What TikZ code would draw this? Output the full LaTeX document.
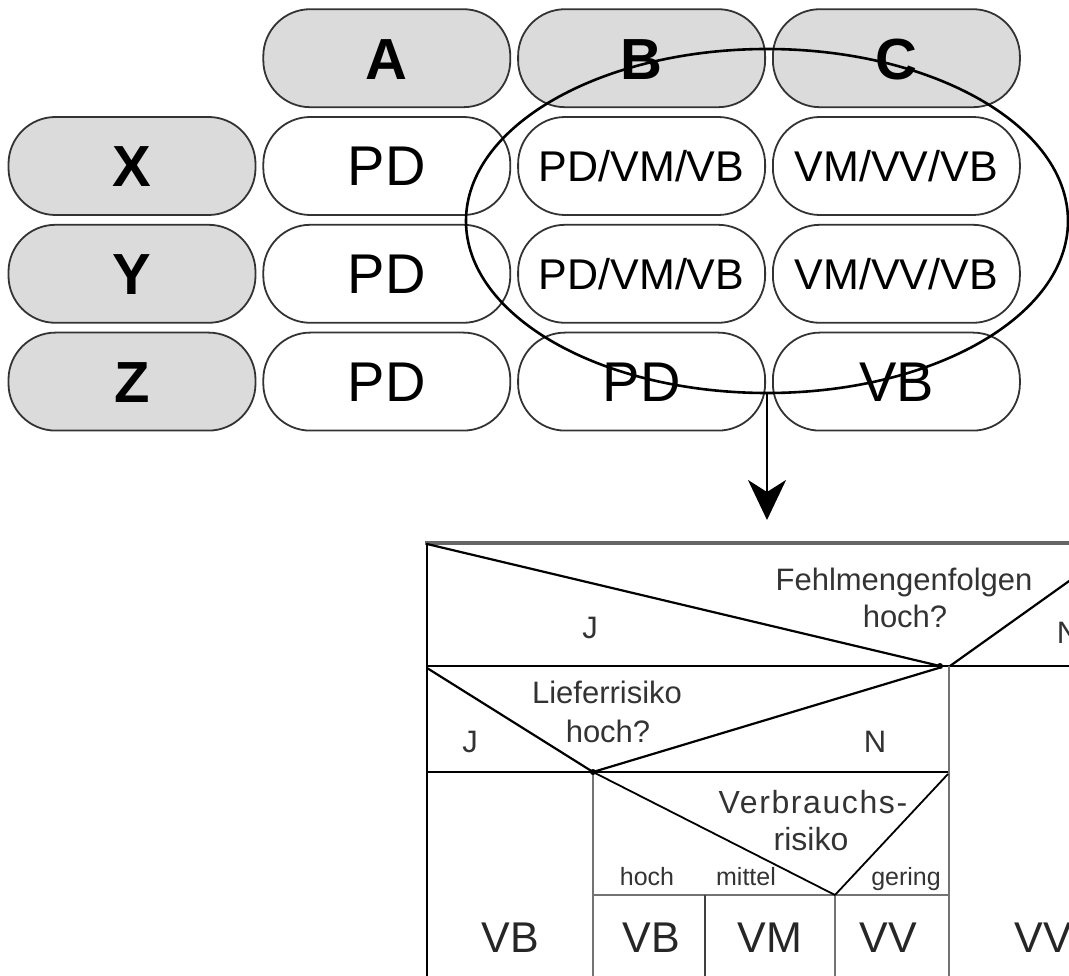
\documentclass[tikz,border=0pt]{standalone}
\usepackage{fontspec}
\setmainfont{Liberation Sans}
\usepackage{tikz}
\usetikzlibrary{arrows.meta}
\usetikzlibrary{shapes.geometric}
\usetikzlibrary{positioning}
\tikzset{
  % arrow tip of the link to the table
  >={Stealth[length=40pt, width=38pt, inset=12pt]},
  % capsules of the matrix
  cell/.style={draw=black!80, line width=1.8pt, rectangle, rounded corners=47pt,
    minimum width=247pt, minimum height=98pt, inner sep=0pt, text depth=0pt},
  head/.style={cell, fill=black!14, text height=42pt,
    font=\fontsize{58}{60}\selectfont\bfseries},
  big/.style={text height=40pt, font=\fontsize{56}{60}\selectfont},
  small/.style={text height=31pt, font=\fontsize{43}{48}\selectfont},
  % texts of the table
  txt/.style={anchor=base, inner sep=0pt, text=black!80, font=\fontsize{31}{36}\selectfont},
  tiny/.style={anchor=base, inner sep=0pt, text=black!80, font=\fontsize{25}{30}\selectfont},
  res/.style={anchor=base, inner sep=0pt, text=black!85, font=\fontsize{43}{48}\selectfont},
  rule/.style={line width=2.2pt, black},
  soft/.style={line width=2.2pt, black!55}
}

\begin{document}
\begin{tikzpicture}[x=1pt, y=-1pt, node distance=8pt and 6pt]
    % Define styles
    \tikzstyle{link} = [draw, ->, line width=2pt]

    \useasboundingbox (0,0) rectangle (1069,976);
    \clip (0,0) rectangle (1069,976);

    % Place nodes
    \node [head] (rx) at (132,166) {X};
    \node [head, below=of rx] (ry) {Y};
    \node [head, below=of ry] (rz) {Z};
    \node [head, above right=of rx] (ca) {A};
    \node [head, right=of ca] (cb) {B};
    \node [head, right=of cb] (cc) {C};

    \node [cell, big, right=of rx] (xa) {PD};
    \node [cell, small, right=of xa] (xb) {PD/VM/VB};
    \node [cell, small, right=of xb] (xc) {VM/VV/VB};
    \node [cell, big, right=of ry] (ya) {PD};
    \node [cell, small, right=of ya] (yb) {PD/VM/VB};
    \node [cell, small, right=of yb] (yc) {VM/VV/VB};
    \node [cell, big, right=of rz] (za) {PD};
    \node [cell, big, right=of za] (zb) {PD};
    \node [cell, big, right=of zb] (zc) {VB};

    \node [draw, ellipse, line width=2.6pt, minimum width=602pt, minimum height=344pt] (focus) at (767,221) {};
    \coordinate (tip) at (767,520);

    % Draw edges
    \path [link] (focus.south) -- (tip);

    % Decision table
    \draw [line width=3.5pt, black!60] (425,543) -- (1069,543);
    \draw [rule] (427,543) -- (427,976);
    \draw [rule] (427,666) -- (1069,666);
    \draw [rule] (427,772) -- (949,772);
    \draw [soft] (949,666) -- (949,976);
    \draw [soft] (593,772) -- (593,976);
    \draw [soft] (593,895) -- (949,895);
    \draw [rule, black!75] (705,895) -- (705,976);
    \draw [soft] (835,895) -- (835,976);

    \draw [rule] (427,544) -- (940,666);
    \draw [rule] (950,666) -- (1100,559);
    \draw [rule] (427,668) -- (593,772);
    \draw [rule] (593,772) -- (942,667);
    \draw [rule, line width=1.8pt] (593,772) -- (835,895);
    \draw [rule, line width=1.8pt] (835,895) -- (948,774);
    \fill (940,666) circle (3pt);
    \fill (593,772) circle (3pt);

    \node [txt] (fq1) at (904,590) {Fehlmengenfolgen};
    \node [txt] (fq2) at (905,627) {hoch?};
    \node [txt] (fj) at (590,638) {J};
    \node [txt] (fn) at (1068,643) {N};
    \node [txt] (lq1) at (607,703) {Lieferrisiko};
    \node [txt] (lq2) at (608,742) {hoch?};
    \node [txt] (lj) at (470,752) {J};
    \node [txt] (ln) at (875,752) {N};
    \node [txt, font=\fontsize{32}{36}\selectfont\addfontfeature{LetterSpace=5}] (vq1) at (813,813) {Verbrauchs-};
    \node [txt, font=\fontsize{32}{36}\selectfont] (vq2) at (811,850) {risiko};
    \node [tiny] (vh) at (647,885) {hoch};
    \node [tiny] (vm) at (746,885) {mittel};
    \node [tiny] (vg) at (906,885) {gering};

    \node [res] (o1) at (510,952) {VB};
    \node [res] (o2) at (651,952) {VB};
    \node [res] (o3) at (770,952) {VM};
    \node [res] (o4) at (888,952) {VV};
    \node [res] (o5) at (1043,952) {VV};
\end{tikzpicture}
\end{document}
